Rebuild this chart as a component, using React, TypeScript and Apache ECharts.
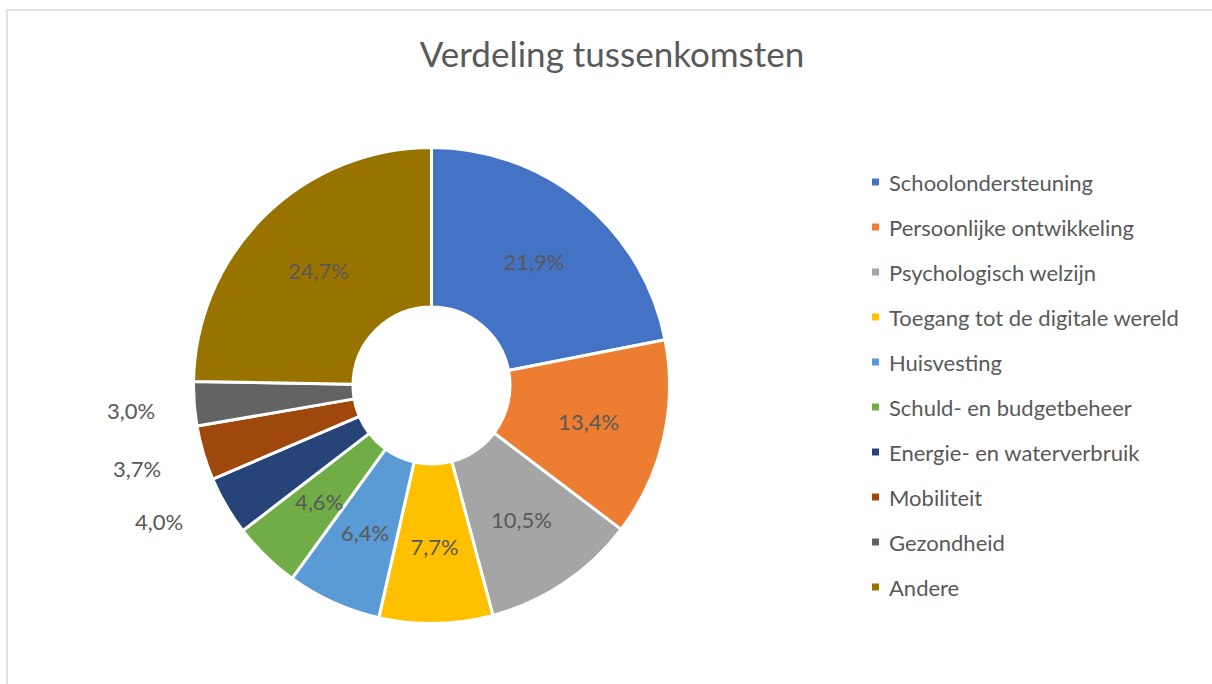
import React, { useEffect, useRef } from "react";
import * as echarts from "echarts";

const title = "Verdeling tussenkomsten";
const categories = [
  "Schoolondersteuning",
  "Persoonlijke ontwikkeling",
  "Psychologisch welzijn",
  "Toegang tot de digitale wereld",
  "Huisvesting",
  "Schuld- en budgetbeheer",
  "Energie- en waterverbruik",
  "Mobiliteit",
  "Gezondheid",
  "Andere",
];
const values = [21.9, 13.4, 10.5, 7.7, 6.4, 4.6, 4.0, 3.7, 3.0, 24.7];
const colors = [
  "#4472C4",
  "#ED7D31",
  "#A5A5A5",
  "#FFC000",
  "#5B9BD5",
  "#70AD47",
  "#264478",
  "#9E480E",
  "#636363",
  "#997300",
];

// positions of the outside labels (for the small slices), by data index
const outsideLabelPos: Record<number, [number, number]> = {
  6: [159, 521],
  7: [137, 468],
  8: [131, 410],
};

const FONT = "Lato, 'Open Sans', sans-serif";
const TEXT = "#595959";

export default function App() {
  const ref = useRef<HTMLDivElement>(null);
  useEffect(() => {
    const chart = echarts.init(ref.current!, null, { renderer: "svg" });
    const fmt = (v: number) => v.toFixed(1).replace(".", ",") + "%";
    chart.setOption({
      animation: false,
      backgroundColor: "#ffffff",
      title: {
        text: title,
        top: 30,
        left: 607,
        textAlign: "center",
        textStyle: { fontFamily: FONT, fontSize: 35, fontWeight: "normal", color: TEXT },
      },
      legend: {
        orient: "vertical",
        left: 865,
        top: 166,
        icon: "rect",
        itemWidth: 9,
        itemHeight: 9,
        itemGap: 23,
        data: categories,
        textStyle: {
          fontFamily: FONT,
          fontSize: 22,
          color: TEXT,
          lineHeight: 22,
          padding: [0, 0, 0, 4],
        },
      },
      graphic: [
        {
          type: "rect",
          shape: { x: 7, y: 10, width: 1300, height: 800 },
          style: { fill: "none", stroke: "#d9d9d9", lineWidth: 1.5 },
          silent: true,
        },
      ],
      series: [
        {
          type: "pie",
          center: [431.5, 385.5],
          radius: [78.5, 238],
          startAngle: 90,
          clockwise: true,
          avoidLabelOverlap: false,
          itemStyle: { borderColor: "#ffffff", borderWidth: 3 },
          labelLine: { show: false },
          label: {
            fontFamily: FONT,
            fontSize: 22,
            color: TEXT,
          },
          labelLayout: (params: any) => {
            const p = outsideLabelPos[params.dataIndex];
            if (p) return { x: p[0], y: p[1], align: "center", verticalAlign: "middle" };
            return {};
          },
          data: categories.map((name, i) => ({
            name,
            value: values[i],
            itemStyle: { color: colors[i] },
            label: {
              show: true,
              position: outsideLabelPos[i] ? "outside" : "inside",
              formatter: () => fmt(values[i]),
            },
          })),
        },
      ],
    });
    return () => chart.dispose();
  }, []);
  return (
    <div
      ref={ref}
      style={{ position: "fixed", left: 0, top: 0, width: 1212, height: 684 }}
    />
  );
}
